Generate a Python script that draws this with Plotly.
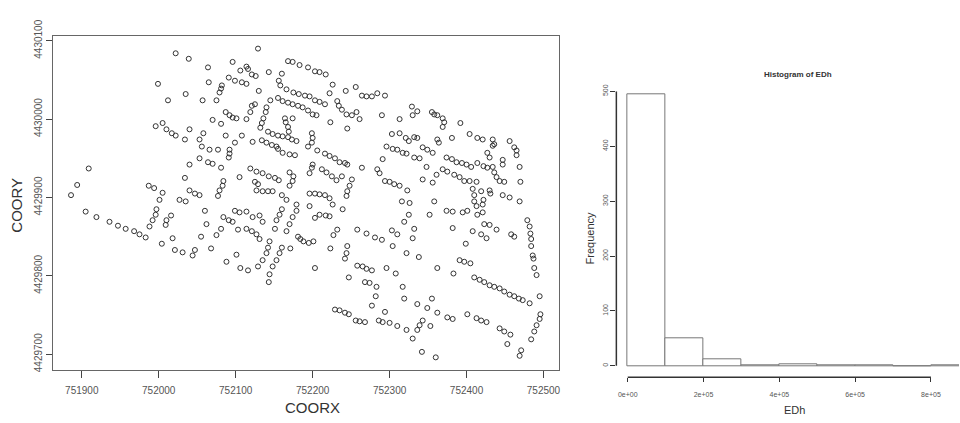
import plotly.graph_objects as go

# ---------------- scatter data (COORX, COORY) ----------------
coorx = [
    752022, 752039, 752129, 752064, 752096, 752106, 752114, 752116, 752121, 752126,
    752143, 752160, 752168, 752174, 752183, 752194, 752203, 752209, 752217, 751999,
    752065, 752091, 752099, 752108, 752114, 752082, 752081, 752079, 752035, 752012,
    752057, 752075, 752130, 752156, 752158, 752166, 752175, 752182, 752190, 752196,
    752203, 752209, 752216, 752125, 752121, 752119, 752114, 752087, 752092, 752096,
    752101, 752140, 752139, 752136, 752134, 752132, 752145, 752155, 752161, 752168,
    752174, 752181, 752187, 752194, 752200, 752205, 752070, 752081, 751996, 752005,
    752010, 752017, 752022, 752040, 752034, 752058, 752053, 752056, 752087, 752108,
    752099, 752122, 752134, 752140, 752147, 752153, 752142, 752148, 752155, 752161,
    752168, 752173, 752179, 752165, 752168, 752169, 752164, 752174, 752066, 752077,
    752092, 752092, 752091, 752053, 752064, 752070, 752081, 752040, 752155, 752161,
    752170, 752177, 751909, 752119, 752127, 752135, 752143, 752151, 752156, 752105,
    752034, 752084, 752083, 752079, 752077, 751987, 751994, 752005, 752040, 752047,
    752053, 752127, 752135, 752142, 752148, 752129, 752125, 752170, 752175, 752174,
    752170, 751894, 751886, 752160, 752166, 752001, 752027, 752035,
    # lower-left block
    751905, 751919, 751936, 751947, 751957, 751968, 751975, 751983, 751988, 751992,
    751996, 751997, 752009, 752010, 752016, 752018, 752004, 752021, 752031, 752044,
    752047, 752055, 752062, 752060, 752068, 752075, 752081, 752088, 752101, 752106,
    752116, 752084, 752091, 752096, 752103, 752114, 752121, 752127, 752131, 752099,
    752105, 752114, 752122, 752131, 752135, 752129, 752135, 752140, 752142, 752144,
    752143, 752144, 752148, 752153, 752157, 752160, 752151, 752153, 752157, 752160,
    752166, 752170, 752174, 752179, 752171, 752181,
    # lower-right block
    752184, 752188, 752195, 752201, 752203, 752203, 752209, 752217, 752222, 752227,
    752232, 752223, 752239, 752242, 752244, 752245, 752247, 752258, 752270, 752281,
    752290, 752258, 752265, 752270, 752277, 752268, 752274, 752283, 752282, 752277,
    752294, 752296, 752308, 752303, 752310, 752304, 752319, 752325, 752330, 752332,
    752322, 752338, 752317, 752319, 752229, 752235, 752242, 752247, 752256, 752261,
    752268, 752286, 752291, 752300, 752310, 752322, 752330, 752336, 752339, 752343,
    752353, 752342, 752360, 752336, 752349, 752355, 752362, 752375, 752382, 752352,
    752362, 752383, 752382, 752399, 752391, 752397, 752405, 752410, 752417, 752423,
    752430, 752436, 752443, 752449, 752456, 752462, 752468, 752473, 752482, 752495,
    752401, 752413, 752419, 752426, 752443, 752449, 752457, 752453, 752471, 752469,
    752484, 752488, 752491, 752495, 752496, 752408, 752419, 752426, 752439, 752458,
    752462, 752479, 752482, 752483, 752484, 752484, 752486, 752487, 752488, 752491,
    752374, 752382, 752395, 752401, 752414, 752421, 752423, 752430,
    # upper-right block
    752226, 752222, 752243, 752256, 752264, 752270, 752277, 752284, 752294, 752232,
    752234, 752238, 752244, 752251, 752257, 752261, 752223, 752245, 752290, 752199,
    752200, 752199, 752194, 752206, 752216, 752222, 752229, 752235, 752242, 752245,
    752200, 752199, 752196, 752212, 752218, 752225, 752231, 752238, 752264, 752251,
    752248, 752245, 752244, 752196, 752203, 752209, 752216, 752222, 752226, 752179,
    752196, 752313, 752329, 752330, 752336, 752355, 752358, 752362, 752369, 752371,
    752369, 752392, 752404, 752414, 752421, 752434, 752436, 752434, 752456, 752462,
    752465, 752465, 752303, 752313, 752321, 752325, 752332, 752336, 752381, 752362,
    752364, 752296, 752304, 752310, 752317, 752322, 752332, 752339, 752343, 752349,
    752356, 752291, 752284, 752287, 752348, 752361, 752343, 752356, 752374, 752381,
    752387, 752394, 752400, 752406, 752414, 752422, 752427, 752427, 752430, 752434,
    752436, 752439, 752443, 752449, 752447, 752447, 752469, 752470, 752369, 752375,
    752384, 752391, 752397, 752404, 752413, 752294, 752300, 752306, 752313, 752323,
    752408, 752410, 752410, 752413, 752419, 752422, 752421, 752430, 752431, 752447,
    752456, 752469, 752316, 752326, 752358,
]
coory = [
    4430084, 4430077, 4430090, 4430066, 4430073, 4430062, 4430067, 4430064, 4430057, 4430055,
    4430060, 4430058, 4430074, 4430073, 4430069, 4430066, 4430061, 4430060, 4430057, 4430045,
    4430047, 4430053, 4430049, 4430047, 4430045, 4430043, 4430039, 4430034, 4430032, 4430024,
    4430024, 4430024, 4430036, 4430049, 4430043, 4430038, 4430034, 4430032, 4430030, 4430029,
    4430024, 4430022, 4430019, 4430019, 4430017, 4430009, 4430000, 4430009, 4430005, 4430002,
    4430001, 4430015, 4430009, 4430001, 4429995, 4429989, 4430024, 4430027, 4430023, 4430021,
    4430019, 4430017, 4430015, 4430011, 4430006, 4430005, 4429999, 4429994, 4429991, 4429995,
    4429987, 4429982, 4429979, 4429987, 4429974, 4429982, 4429974, 4429965, 4429979, 4429979,
    4429970, 4429971, 4429973, 4429970, 4429967, 4429965, 4429984, 4429981, 4429979, 4429978,
    4429977, 4429974, 4429972, 4429996, 4429990, 4429984, 4430001, 4430001, 4429961, 4429961,
    4429961, 4429956, 4429951, 4429950, 4429945, 4429943, 4429938, 4429942, 4429962, 4429957,
    4429955, 4429954, 4429937, 4429937, 4429933, 4429931, 4429927, 4429925, 4429922, 4429926,
    4429925, 4429921, 4429915, 4429909, 4429902, 4429915, 4429912, 4429906, 4429909, 4429905,
    4429903, 4429909, 4429908, 4429908, 4429908, 4429917, 4429920, 4429932, 4429927, 4429921,
    4429915, 4429916, 4429903, 4429903, 4429897, 4429897, 4429897, 4429895,
    # lower-left block
    4429882, 4429875, 4429869, 4429864, 4429860, 4429857, 4429853, 4429849, 4429863, 4429871,
    4429878, 4429885, 4429865, 4429871, 4429877, 4429848, 4429841, 4429833, 4429830, 4429826,
    4429833, 4429850, 4429866, 4429883, 4429835, 4429852, 4429860, 4429818, 4429827, 4429810,
    4429807, 4429875, 4429871, 4429869, 4429859, 4429860, 4429857, 4429853, 4429847, 4429883,
    4429881, 4429882, 4429875, 4429877, 4429869, 4429812, 4429820, 4429829, 4429836, 4429844,
    4429792, 4429802, 4429812, 4429820, 4429829, 4429836, 4429860, 4429871, 4429878, 4429885,
    4429857, 4429866, 4429875, 4429883, 4429835, 4429850,
    # lower-right block
    4429847, 4429844, 4429842, 4429844, 4429810, 4429874, 4429878, 4429877, 4429876, 4429852,
    4429859, 4429835, 4429885, 4429822, 4429829, 4429838, 4429798, 4429859, 4429854, 4429849,
    4429846, 4429813, 4429812, 4429809, 4429807, 4429792, 4429791, 4429786, 4429774, 4429762,
    4429754, 4429810, 4429803, 4429858, 4429853, 4429838, 4429869, 4429878, 4429848, 4429860,
    4429829, 4429824, 4429786, 4429771, 4429757, 4429756, 4429753, 4429751, 4429743, 4429742,
    4429741, 4429743, 4429741, 4429740, 4429736, 4429731, 4429720, 4429731, 4429737, 4429743,
    4429736, 4429703, 4429696, 4429764, 4429759, 4429771, 4429753, 4429747, 4429745, 4429878,
    4429810, 4429803, 4429861, 4429841, 4429820, 4429818, 4429816, 4429798, 4429795, 4429792,
    4429788, 4429786, 4429784, 4429780, 4429776, 4429774, 4429771, 4429769, 4429765, 4429774,
    4429751, 4429746, 4429743, 4429741, 4429733, 4429729, 4429725, 4429713, 4429705, 4429698,
    4429719, 4429729, 4429737, 4429745, 4429751, 4429857, 4429853, 4429848, 4429859, 4429853,
    4429850, 4429871, 4429863, 4429854, 4429847, 4429838, 4429826, 4429822, 4429810, 4429801,
    4429883, 4429882, 4429881, 4429883, 4429878, 4429881, 4429866, 4429865,
    # upper-right block
    4430044, 4430033, 4430036, 4430041, 4430030, 4430029, 4430029, 4430033, 4430030, 4430023,
    4430017, 4430012, 4430006, 4430005, 4430009, 4430000, 4429996, 4429988, 4430005, 4429982,
    4429976, 4429970, 4429965, 4429960, 4429956, 4429953, 4429950, 4429945, 4429944, 4429942,
    4429942, 4429938, 4429931, 4429936, 4429932, 4429927, 4429922, 4429927, 4429938, 4429923,
    4429915, 4429908, 4429902, 4429905, 4429905, 4429904, 4429903, 4429899, 4429891, 4429891,
    4429889, 4430000, 4430016, 4430005, 4430010, 4430009, 4430006, 4430005, 4430001, 4429996,
    4429990, 4429995, 4429981, 4429976, 4429974, 4429974, 4429968, 4429966, 4429972, 4429964,
    4429960, 4429954, 4429981, 4429982, 4429976, 4429972, 4429977, 4429976, 4429976, 4429974,
    4429970, 4429965, 4429962, 4429961, 4429957, 4429956, 4429951, 4429950, 4429964, 4429961,
    4429957, 4429949, 4429936, 4429931, 4429939, 4429929, 4429923, 4429919, 4429951, 4429949,
    4429945, 4429944, 4429942, 4429939, 4429944, 4429940, 4429938, 4429957, 4429951, 4429939,
    4429932, 4429926, 4429921, 4429920, 4429948, 4429942, 4429939, 4429920, 4429936, 4429933,
    4429929, 4429926, 4429921, 4429921, 4429920, 4429921, 4429920, 4429917, 4429915, 4429909,
    4429911, 4429903, 4429895, 4429889, 4429908, 4429897, 4429891, 4429909, 4429905, 4429903,
    4429900, 4429895, 4429895, 4429893, 4429895,
]

coorx_ticks = [751900, 752000, 752100, 752200, 752300, 752400, 752500]
coory_ticks = [4429700, 4429800, 4429900, 4430000, 4430100]

# ---------------- histogram data (EDh) ----------------
edh_bin_start = [0, 100000, 200000, 300000, 400000, 500000, 600000, 700000, 800000]
edh_bin_width = 100000
edh_counts = [494, 51, 12, 1, 3, 1, 1, 0, 1]
edh_tickvals = [0, 200000, 400000, 600000, 800000]
edh_ticktext = ["0e+00", "2e+05", "4e+05", "6e+05", "8e+05"]
freq_ticks = [0, 100, 200, 300, 400, 500]

n = min(len(coorx), len(coory))
coorx = coorx[:n]
coory = coory[:n]

FONT = "Liberation Sans, Arial, sans-serif"

fig = go.Figure()

fig.add_trace(go.Scatter(
    x=coorx, y=coory, mode="markers",
    marker=dict(symbol="circle-open", size=5, color="#333333", line=dict(width=1)),
    xaxis="x", yaxis="y", showlegend=False, hoverinfo="skip",
))

centers = [s + edh_bin_width / 2 for s in edh_bin_start]
fig.add_trace(go.Bar(
    x=centers, y=edh_counts, width=edh_bin_width,
    marker=dict(color="white", line=dict(color="#777777", width=1)),
    xaxis="x2", yaxis="y2", showlegend=False, hoverinfo="skip",
))

tickfont = dict(family=FONT, size=10, color="#555555")
small = dict(family=FONT, size=7, color="#555555")

fig.update_layout(
    width=960, height=423,
    margin=dict(l=0, r=0, t=0, b=0),
    paper_bgcolor="white", plot_bgcolor="white",
    bargap=0,
    xaxis=dict(
        domain=[53 / 960, 560 / 960], range=[751862.5, 752520.7],
        tickvals=coorx_ticks, ticktext=[str(v) for v in coorx_ticks],
        showgrid=False, zeroline=False, showline=True, mirror=True,
        linecolor="#666666", linewidth=1, ticks="outside", ticklen=7,
        tickcolor="#444444", tickfont=tickfont, anchor="y", ticklabelstandoff=4,
    ),
    yaxis=dict(
        domain=[(423 - 370) / 423, (423 - 20) / 423], range=[4429680.5, 4430106],
        tickvals=coory_ticks, ticktext=[str(v) for v in coory_ticks],
        tickangle=-90,
        showgrid=False, zeroline=False, showline=True, mirror=True,
        linecolor="#666666", linewidth=1, ticks="outside", ticklen=6,
        tickcolor="#444444", tickfont=tickfont, anchor="x",
    ),
    xaxis2=dict(
        domain=[617 / 960, 1.0], range=[-30000, 874000],
        tickvals=edh_tickvals, ticktext=edh_ticktext,
        showgrid=False, zeroline=False, showline=False,
        ticks="outside", ticklen=4, tickcolor="#333333", tickfont=small, anchor="y2",
        ticklabelstandoff=6,
    ),
    yaxis2=dict(
        domain=[(423 - 378) / 423, (423 - 78) / 423], range=[-20.5, 500],
        tickvals=freq_ticks, ticktext=[str(v) for v in freq_ticks], tickangle=-90,
        showgrid=False, zeroline=False, showline=False,
        ticks="outside", ticklen=5, tickcolor="#333333", tickfont=small, anchor="x2",
    ),
    shapes=[
        dict(type="line", xref="x2", yref="y2 domain", x0=0, x1=800000, y0=0, y1=0,
             line=dict(color="#333333", width=1.5)),
        dict(type="line", xref="x2 domain", yref="y2", x0=0, x1=0, y0=0, y1=500,
             line=dict(color="#333333", width=1.5)),
    ],
    annotations=[
        dict(text="COORX", x=313 / 960, y=(423 - 410) / 423, xref="paper", yref="paper",
             xanchor="center", yanchor="middle", showarrow=False,
             font=dict(family=FONT, size=15, color="#333333")),
        dict(text="COORY", x=17 / 960, y=(423 - 197) / 423, xref="paper", yref="paper",
             xanchor="center", yanchor="middle", textangle=-90, showarrow=False,
             font=dict(family=FONT, size=15, color="#333333")),
        dict(text="<b>Histogram of EDh</b>", x=799 / 960, y=(423 - 60) / 423, xref="paper", yref="paper",
             xanchor="center", yanchor="middle", showarrow=False,
             font=dict(family=FONT, size=8, color="#333333")),
        dict(text="EDh", x=795 / 960, y=(423 - 412) / 423, xref="paper", yref="paper",
             xanchor="center", yanchor="middle", showarrow=False,
             font=dict(family=FONT, size=11, color="#333333")),
        dict(text="Frequency", x=591 / 960, y=(423 - 232) / 423, xref="paper", yref="paper",
             xanchor="center", yanchor="middle", textangle=-90, showarrow=False,
             font=dict(family=FONT, size=11, color="#333333")),
    ],
)

fig.write_html("out.html")
